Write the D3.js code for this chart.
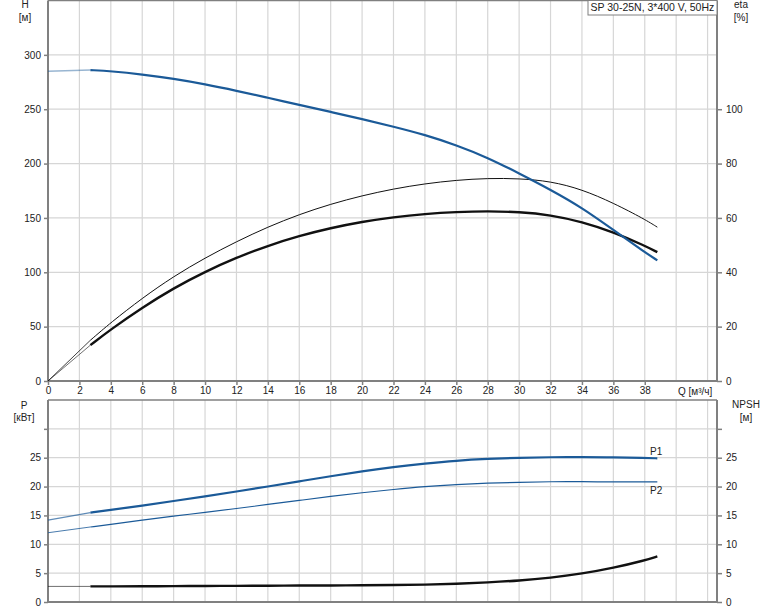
<!DOCTYPE html>
<html><head><meta charset="utf-8">
<script src="https://cdn.jsdelivr.net/npm/d3@7"></script>
<style>
body{margin:0;background:#fff;}
text{font-family:"Liberation Sans",Arial,sans-serif;font-size:10px;fill:#222;}
</style></head>
<body><svg id="c" width="774" height="611"></svg>
<script>
// ---- data ----
const title = "SP 30-25N, 3*400 V, 50Hz";
const qTicks = [0,2,4,6,8,10,12,14,16,18,20,22,24,26,28,30,32,34,36,38];
const hTicks = [0,50,100,150,200,250,300];
const etaTicks = [0,20,40,60,80,100];
const pTicks = [0,5,10,15,20,25];
const qStart = 2.7; // start of the valid range (before it: extrapolated)
const Q      = [0, 2.7, 4, 6, 8, 10, 12, 14, 16, 18, 20, 22, 24, 26, 28, 30, 32, 34, 36, 38, 38.8];
const H      = [285, 286, 285, 282, 278, 273, 267, 260.5, 254, 247.5, 241, 234, 226.5, 217, 205.5, 191, 176, 159.5, 139, 118.5, 111];
const etaPump= [0, 15, 21.5, 30.5, 38.5, 45.3, 51.3, 56.7, 61.3, 65.1, 68.2, 70.7, 72.6, 73.9, 74.6, 74.5, 73.5, 70.5, 65.5, 59.5, 56.6];
const etaTot = [0, 13.2, 19, 27, 34.2, 40.2, 45.4, 49.8, 53.4, 56.3, 58.6, 60.3, 61.5, 62.2, 62.5, 62.2, 61.1, 58.6, 54.8, 49.8, 47.4];
const P1     = [14.2, 15.5, 15.95, 16.7, 17.5, 18.3, 19.15, 20, 20.9, 21.8, 22.65, 23.4, 24, 24.5, 24.8, 25, 25.1, 25.1, 25.05, 24.95, 24.9];
const P2     = [12, 13, 13.45, 14.2, 14.9, 15.5, 16.2, 16.9, 17.6, 18.3, 18.95, 19.5, 20, 20.35, 20.6, 20.75, 20.85, 20.85, 20.8, 20.8, 20.8];
const NPSH   = [2.7, 2.7, 2.7, 2.72, 2.75, 2.78, 2.8, 2.83, 2.85, 2.87, 2.9, 2.93, 3.0, 3.15, 3.4, 3.7, 4.2, 4.9, 5.9, 7.2, 7.9];

// ---- layout ----
const svg = d3.select("#c");
const L = 48, R = 717;
const x = d3.scaleLinear().domain([0, 42.6]).range([L, R]);
const yH = d3.scaleLinear().domain([0, 350]).range([381, 0.5]);
const yEta = d3.scaleLinear().domain([0, 140]).range([381, 0.5]);
const yP = d3.scaleLinear().domain([0, 35]).range([602, 400]);
const gridC = "#d6d6d6", axC = "#808080", blue = "#1b5a98";

// grids
const vgrid = d3.range(2, 43, 2);
function grid(yScale, vals, y0, y1){
  svg.append("g").selectAll("line.v").data(vgrid).join("line")
    .attr("x1", d=>x(d)).attr("x2", d=>x(d)).attr("y1", y0).attr("y2", y1)
    .attr("stroke", gridC).attr("stroke-width", 1.2);
  svg.append("g").selectAll("line.h").data(vals).join("line")
    .attr("x1", L).attr("x2", R).attr("y1", d=>yScale(d)).attr("y2", d=>yScale(d))
    .attr("stroke", gridC).attr("stroke-width", 1.2);
}
grid(yH, [50,100,150,200,250,300], 0, 381);
grid(yP, [5,10,15,20,25,30], 400, 602);

// frames
function frame(y0, y1){
  svg.append("line").attr("x1", L).attr("x2", R).attr("y1", y0).attr("y2", y0).attr("stroke", axC).attr("stroke-width", 1.5);
  svg.append("line").attr("x1", L).attr("x2", R).attr("y1", y1).attr("y2", y1).attr("stroke", axC).attr("stroke-width", 2);
  svg.append("line").attr("x1", L).attr("x2", L).attr("y1", y0).attr("y2", y1).attr("stroke", axC).attr("stroke-width", 2);
  svg.append("line").attr("x1", R).attr("x2", R).attr("y1", y0).attr("y2", y1).attr("stroke", axC).attr("stroke-width", 2);
}
frame(0.5, 381);
frame(400, 602);

// axes
const axH = svg.append("g").attr("transform", `translate(${L},0)`)
  .call(d3.axisLeft(yH).tickValues(hTicks).tickSize(4).tickPadding(3));
const axEta = svg.append("g").attr("transform", `translate(${R},0)`)
  .call(d3.axisRight(yEta).tickValues(etaTicks).tickSize(5).tickPadding(4));
const axQ = svg.append("g").attr("transform", `translate(0,381)`)
  .call(d3.axisBottom(x).tickValues(qTicks).tickSize(4).tickPadding(2));
const axP = svg.append("g").attr("transform", `translate(${L},0)`)
  .call(d3.axisLeft(yP).tickValues([...pTicks,30]).tickFormat(d=>d===30?"":d).tickSize(4).tickPadding(3));
const axN = svg.append("g").attr("transform", `translate(${R},0)`)
  .call(d3.axisRight(yP).tickValues([...pTicks,30]).tickFormat(d=>d===30?"":d).tickSize(5).tickPadding(4));
[axH, axEta, axQ, axP, axN].forEach(g=>{
  g.select(".domain").remove();
  g.selectAll(".tick line").attr("stroke", axC).attr("stroke-width", 1.5);
  g.selectAll(".tick text").style("font-size","10px").attr("fill","#222");
});

// labels
function t(txt, tx, ty, anchor){ return svg.append("text").attr("x", tx).attr("y", ty).attr("text-anchor", anchor||"middle").text(txt); }
t("H", 25, 8); t("[м]", 25, 21);
t("eta", 741, 8); t("[%]", 741, 21);
t("P", 24, 409); t("[кВт]", 24, 421);
t("NPSH", 746, 408); t("[м]", 746, 421);
t("Q [м³/ч]", 678, 394.5, "start");
t("P1", 650, 455, "start");
t("P2", 650, 494, "start");

// title box
svg.append("rect").attr("x", 588).attr("y", 0.5).attr("width", 129).attr("height", 14.5)
  .attr("fill", "#fff").attr("stroke", "#808080").attr("stroke-width", 1);
t(title, 590.5, 11, "start").style("font-size", "10.5px");

// curves
function curve(vals, yScale, color, wMain, wExt, opExt){
  const pts = Q.map((q,i)=>[q, vals[i]]);
  const line = d3.line().x(d=>x(d[0])).y(d=>yScale(d[1])).curve(d3.curveBasis);
  const ext = pts.filter(d=>d[0] <= qStart);
  const main = pts.filter(d=>d[0] >= qStart);
  svg.append("path").attr("d", line(ext)).attr("fill","none").attr("stroke", color)
    .attr("stroke-width", wExt).attr("stroke-opacity", opExt);
  svg.append("path").attr("d", line(main)).attr("fill","none").attr("stroke", color)
    .attr("stroke-width", wMain).attr("stroke-linejoin","round");
}
curve(etaPump, yEta, "#111", 1, 1, 0.8);
curve(etaTot, yEta, "#111", 2.4, 1, 0.6);
curve(H, yH, blue, 2.2, 1.5, 0.45);
curve(P2, yP, blue, 1.2, 1, 0.8);
curve(P1, yP, blue, 2.2, 1.2, 0.7);
curve(NPSH, yP, "#111", 2.4, 1, 0.6);
</script></body></html>
